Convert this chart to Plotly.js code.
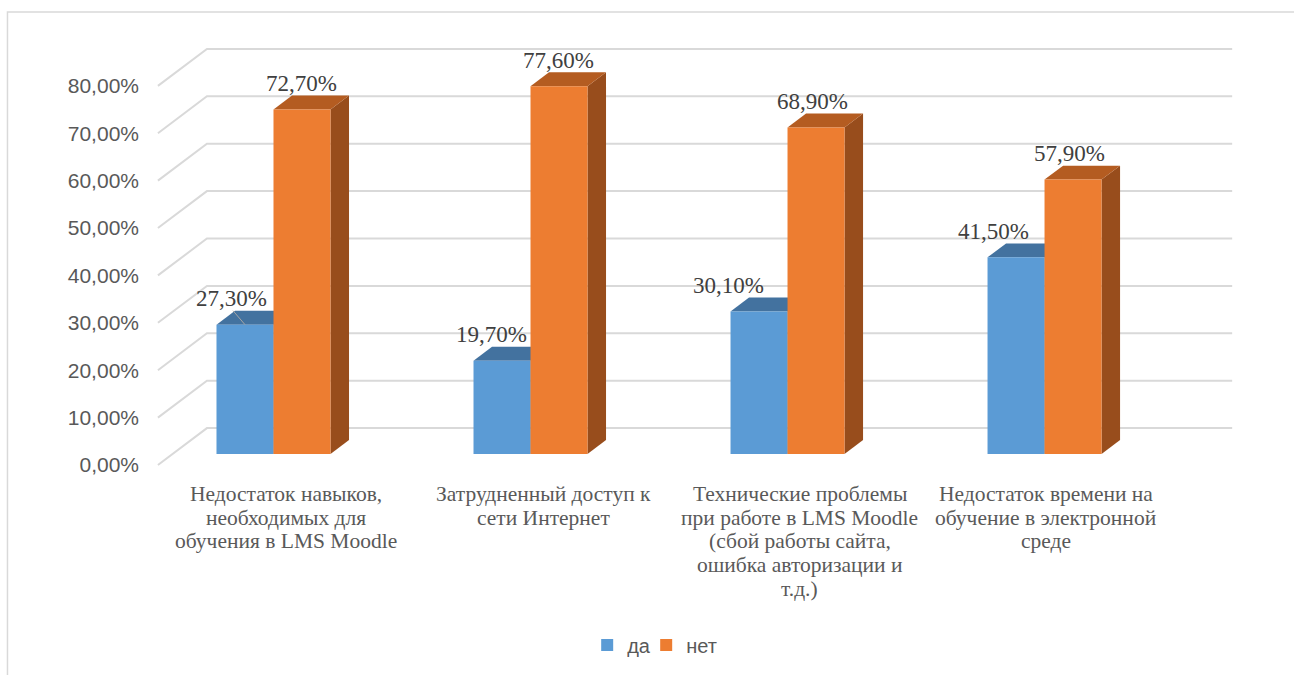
<!DOCTYPE html>
<html>
<head>
<meta charset="utf-8">
<script src="https://cdn.plot.ly/plotly-3.0.1.min.js"></script>
<style>
  html, body { margin: 0; padding: 0; background: #ffffff; }
  #chart { width: 1294px; height: 675px; }
</style>
</head>
<body>
<div id="chart"></div>
<script>
// Survey answers: difficulties of learning in LMS Moodle
const categories = [
  'Недостаток навыков,<br>необходимых для<br>обучения в LMS Moodle',
  'Затрудненный доступ к<br>сети Интернет',
  'Технические проблемы<br>при работе в LMS Moodle<br>(сбой работы сайта,<br>ошибка авторизации и<br>т.д.)',
  'Недостаток времени на<br>обучение в электронной<br>среде'
];
const seriesNames = ['да', 'нет'];
const yesValues = [27.3, 19.7, 30.1, 41.5];
const noValues = [72.7, 77.6, 68.9, 57.9];
const tickValues = [0, 10, 20, 30, 40, 50, 60, 70, 80];
const tickLabels = ['0,00%', '10,00%', '20,00%', '30,00%', '40,00%', '50,00%', '60,00%', '70,00%', '80,00%'];

// Colours of the bar faces
const COLORS = {
  yes: { front: '#5b9bd5', top: '#43729f', side: '#3d6a94' },
  no:  { front: '#ed7d31', top: '#b45c21', side: '#984d1c' }
};

// Axis scales (pixels per unit) and the oblique projection of depth
const PX_PER_CAT = 257;
const PX_PER_PCT = 4.75;
const DEPTH_DX = 49 / PX_PER_CAT;   // full depth of the box, x units
const DEPTH_DY = 37 / PX_PER_PCT;   // full depth of the box, y units
const T_WALL_FRONT = -0.297;        // depth of the front edge of the walls
const T_BAR_BACK = 0.378;           // depth of the back face of a bar
const T_WALL_BACK = 0.703;          // depth of the back wall
const WALL_LEFT = -0.393;           // left wall, measured on the bar front plane
const WALL_RIGHT = 3.596;           // right end of the back wall
const BAR_W = 57 / PX_PER_CAT;
const BARGAP = 1 - 2 * BAR_W;

function proj(x, y, t) { return [x + t * DEPTH_DX, y + t * DEPTH_DY]; }
function path(pts) {
  return 'M ' + pts.map(p => p[0].toFixed(5) + ',' + p[1].toFixed(5)).join(' L ') + ' Z';
}
function fmt(v) { return v.toFixed(2).replace('.', ',') + '%'; }

const catIdx = categories.map((_, i) => i);
const shapes = [];

// Gridlines: along the back wall, plus the slanted part on the left wall
tickValues.forEach(v => {
  const a = proj(WALL_LEFT, v, T_WALL_FRONT);
  const b = proj(WALL_LEFT, v, T_WALL_BACK);
  const c = proj(WALL_RIGHT, v, T_WALL_BACK);
  shapes.push({
    type: 'path', xref: 'x', yref: 'y', layer: 'below',
    path: 'M ' + a[0] + ',' + a[1] + ' L ' + b[0] + ',' + b[1] + ' L ' + c[0] + ',' + c[1],
    line: { color: '#d9d9d9', width: 2 }
  });
});

// Top and side faces for every bar
function addFaces(values, offset, col) {
  values.forEach((v, i) => {
    const xl = i + offset - BAR_W / 2;
    const xr = i + offset + BAR_W / 2;
    shapes.push({
      type: 'path', xref: 'x', yref: 'y', layer: 'below',
      path: path([[xr, 0], [xr, v], proj(xr, v, T_BAR_BACK), proj(xr, 0, T_BAR_BACK)]),
      fillcolor: col.side, line: { width: 0 }
    });
    shapes.push({
      type: 'path', xref: 'x', yref: 'y', layer: 'below',
      path: path([[xl, v], [xr, v], proj(xr, v, T_BAR_BACK), proj(xl, v, T_BAR_BACK)]),
      fillcolor: col.top, line: { width: 0 }
    });
  });
}
addFaces(yesValues, -BAR_W / 2, COLORS.yes);
addFaces(noValues, BAR_W / 2, COLORS.no);

// Leader line of the first "да" label
{
  const v = yesValues[0];
  const xc = 0 - BAR_W / 2;
  const top = proj(xc, v, T_BAR_BACK);
  shapes.push({
    type: 'line', xref: 'x', yref: 'y', layer: 'above',
    x0: xc - 12 / PX_PER_CAT, y0: top[1], x1: xc, y1: v,
    line: { color: '#a6a6a6', width: 1 }
  });
}

// Chart frame (left and top edges)
shapes.push({
  type: 'path', xref: 'paper', yref: 'paper', layer: 'below',
  path: 'M -0.1291,-0.46 L -0.1291,1.0178 L 1.04,1.0178',
  line: { color: '#d9d9d9', width: 1.5 }
});

// Value labels above the bars
const labelShiftYes = [-13, -11, -31, -23];
const labelShiftNo = [-1, -1, -4, -4];
const annotations = [];
function addLabels(values, offset, shifts) {
  values.forEach((v, i) => {
    const p = proj(i + offset, v, T_BAR_BACK);
    annotations.push({
      x: i + offset, y: p[1], xref: 'x', yref: 'y',
      text: fmt(v), showarrow: false,
      xanchor: 'center', yanchor: 'middle',
      xshift: shifts[i], yshift: 12,
      font: { family: '"Liberation Serif", "Times New Roman", serif', size: 23, color: '#404040' }
    });
  });
}
addLabels(yesValues, -BAR_W / 2, labelShiftYes);
addLabels(noValues, BAR_W / 2, labelShiftNo);

// Category labels under the groups, one annotation per line
const catLabelShift = [13, 13, 12, 1];
categories.forEach((c, i) => {
  c.split('<br>').forEach((line, k) => {
    annotations.push({
      x: i, y: 0, xref: 'x', yref: 'paper',
      text: line, showarrow: false,
      xanchor: 'center', yanchor: 'middle',
      xshift: catLabelShift[i], yshift: -25 - k * 23.7,
      font: { family: '"Liberation Serif", "Times New Roman", serif', size: 21.5, color: '#595959' }
    });
  });
});

const traces = [
  {
    type: 'bar', name: seriesNames[0], x: catIdx, y: yesValues,
    marker: { color: COLORS.yes.front, line: { width: 0 } },
    legendwidth: 14,
    hoverinfo: 'skip'
  },
  {
    type: 'bar', name: seriesNames[1], x: catIdx, y: noValues,
    marker: { color: COLORS.no.front, line: { width: 0 } },
    hoverinfo: 'skip'
  }
];

const layout = {
  width: 1294, height: 675,
  margin: { l: 150, r: 40, t: 20, b: 205 },
  paper_bgcolor: '#ffffff', plot_bgcolor: 'rgba(0,0,0,0)',
  barmode: 'group', bargap: BARGAP, bargroupgap: 0,
  showlegend: true,
  legend: {
    orientation: 'h', x: 0.396, xanchor: 'left', y: -0.389, yanchor: 'middle',
    font: { family: '"Liberation Sans", Arial, sans-serif', size: 20, color: '#595959' },
    itemclick: false, itemdoubleclick: false
  },
  xaxis: {
    range: [-0.4805, 3.815], showticklabels: false, showgrid: false,
    zeroline: false, showline: false, ticks: '', fixedrange: true
  },
  yaxis: {
    range: [-3.158, 91.58], showgrid: false, zeroline: false, showline: false,
    tickmode: 'array',
    tickvals: tickValues.map(v => proj(WALL_LEFT, v, T_WALL_FRONT)[1]),
    ticktext: tickLabels,
    ticks: '', ticklabelstandoff: 10,
    tickfont: { family: '"Liberation Sans", Arial, sans-serif', size: 21, color: '#595959' },
    fixedrange: true
  },
  shapes: shapes,
  annotations: annotations
};

Plotly.newPlot('chart', traces, layout, { staticPlot: true, displayModeBar: false });
</script>
</body>
</html>
